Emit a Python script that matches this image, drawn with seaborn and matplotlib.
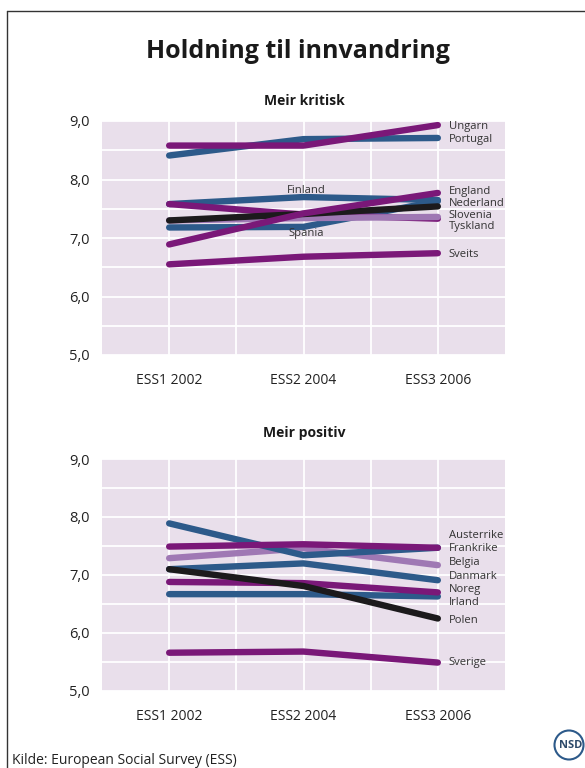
import numpy as np
import pandas as pd
import matplotlib
matplotlib.use("Agg")
import matplotlib.pyplot as plt
import seaborn as sns
from matplotlib.lines import Line2D
from matplotlib.patches import Circle

sns.set_style("white")
plt.rcParams['font.family'] = ['Open Sans', 'DejaVu Sans']

# Data
rounds = ["ESS1 2002", "ESS2 2004", "ESS3 2006"]

kritisk_land = ["Sveits", "Spania", "Finland", "Tyskland", "Slovenia",
                "Nederland", "England", "Portugal", "Ungarn"]
kritisk_verdi = [
    [6.55, 6.68, 6.74],   # Sveits
    [7.18, 7.19, 7.63],   # Spania
    [7.58, 7.70, 7.65],   # Finland
    [7.58, 7.40, 7.33],   # Tyskland
    [7.30, 7.34, 7.36],   # Slovenia
    [7.30, 7.41, 7.54],   # Nederland
    [6.89, 7.42, 7.77],   # England
    [8.41, 8.69, 8.71],   # Portugal
    [8.58, 8.58, 8.93],   # Ungarn
]

positiv_land = ["Sverige", "Irland", "Noreg", "Belgia", "Danmark",
                "Frankrike", "Austerrike", "Polen"]
positiv_verdi = [
    [5.66, 5.68, 5.49],   # Sverige
    [6.67, 6.67, 6.63],   # Irland
    [6.88, 6.86, 6.70],   # Noreg
    [7.29, 7.46, 7.17],   # Belgia
    [7.10, 7.20, 6.91],   # Danmark
    [7.89, 7.34, 7.47],   # Frankrike
    [7.49, 7.53, 7.47],   # Austerrike
    [7.10, 6.81, 6.25],   # Polen
]

PURPLE = "#7a1878"
BLUE = "#2d5a8a"
BLACK = "#1c1a1c"
LILAC = "#9f78b4"

farge = {
    "Ungarn": PURPLE, "Portugal": BLUE, "Finland": BLUE, "England": PURPLE,
    "Nederland": BLACK, "Slovenia": LILAC, "Tyskland": PURPLE, "Spania": BLUE,
    "Sveits": PURPLE,
    "Austerrike": PURPLE, "Frankrike": BLUE, "Belgia": LILAC, "Danmark": BLUE,
    "Noreg": PURPLE, "Irland": BLUE, "Polen": BLACK, "Sverige": PURPLE,
}

# label positions (value axis) for the end labels
kritisk_etikett = {"Ungarn": 8.91, "Portugal": 8.69, "England": 7.80,
                   "Nederland": 7.59, "Slovenia": 7.39, "Tyskland": 7.19,
                   "Sveits": 6.71}
kritisk_midt = {"Finland": 7.82, "Spania": 7.07}
positiv_etikett = {"Austerrike": 7.68, "Frankrike": 7.46, "Belgia": 7.21,
                   "Danmark": 6.98, "Noreg": 6.75, "Irland": 6.52,
                   "Polen": 6.21, "Sverige": 5.50}


def lang_tabell(land, verdi):
    rader = []
    for navn, vals in zip(land, verdi):
        for i, v in enumerate(vals):
            rader.append({"land": navn, "runde": i, "verdi": v})
    return pd.DataFrame(rader)


W, H = 585, 768
fig = plt.figure(figsize=(W / 100, H / 100), dpi=100)


def px_axes(x0, y0, x1, y1):
    return fig.add_axes([x0 / W, 1 - y1 / H, (x1 - x0) / W, (y1 - y0) / H])


def tegn_panel(ax, land, verdi, etikett, midt=None):
    ax.set_facecolor("#e9dfeb")
    df = lang_tabell(land, verdi)
    for navn in land:
        sub = df[df["land"] == navn]
        sns.lineplot(data=sub, x="runde", y="verdi", ax=ax, color=farge[navn],
                     linewidth=4.6, solid_capstyle="round", legend=False,
                     zorder=3)
    ax.set_xlim(-0.5, 2.5)
    ax.set_ylim(5, 9)
    ax.set_xticks([0, 1, 2])
    ax.set_xticklabels(rounds, fontsize=10, color="#222222")
    ax.set_xticks([0.5, 1.5], minor=True)
    ax.set_yticks([5, 6, 7, 8, 9])
    ax.set_yticklabels(["5,0", "6,0", "7,0", "8,0", "9,0"], fontsize=10.5,
                       color="#222222")
    ax.set_yticks([5.5, 6.5, 7.5, 8.5], minor=True)
    ax.grid(True, which="both", color="white", linewidth=1.3)
    ax.set_axisbelow(True)
    ax.tick_params(which="both", length=0)
    ax.tick_params(axis="x", pad=13)
    ax.tick_params(axis="y", pad=9)
    ax.set_xlabel("")
    ax.set_ylabel("")
    for s in ax.spines.values():
        s.set_visible(False)
    for navn, yv in etikett.items():
        ax.annotate(navn, (2, yv), xytext=(8, 0), textcoords="offset points",
                    fontsize=8.1, color="#333333", va="center", ha="left",
                    zorder=5, annotation_clip=False)
    if midt:
        for navn, yv in midt.items():
            ax.text(1.02, yv, navn, fontsize=8.1, color="#333333",
                    va="center", ha="center", zorder=5)


ax1 = px_axes(102, 121, 505, 355)
tegn_panel(ax1, kritisk_land, kritisk_verdi, kritisk_etikett, kritisk_midt)
ax2 = px_axes(102, 459, 505, 691)
tegn_panel(ax2, positiv_land, positiv_verdi, positiv_etikett)

fig.text(298 / W, 1 - 52 / H, "Holdning til innvandring", fontsize=18,
         fontweight="bold", ha="center", va="center", color="#1a1a1a")
fig.text(304 / W, 1 - 101 / H, "Meir kritisk", fontsize=10,
         fontweight="bold", ha="center", va="center", color="#1a1a1a")
fig.text(304 / W, 1 - 433 / H, "Meir positiv", fontsize=10,
         fontweight="bold", ha="center", va="center", color="#1a1a1a")
fig.text(12 / W, 1 - 760 / H, "Kilde: European Social Survey (ESS)",
         fontsize=10, ha="left", va="center", color="#222222")

# border
fig.add_artist(Line2D([7 / W, 1], [1 - 11 / H, 1 - 11 / H], color="#333333",
                      linewidth=1.0))
fig.add_artist(Line2D([7 / W, 7 / W], [0, 1 - 11 / H], color="#333333",
                      linewidth=1.0))

# NSD logo
logo = fig.add_axes([0, 0, 1, 1], facecolor="none")
logo.set_xlim(0, W)
logo.set_ylim(H, 0)
logo.axis("off")
logo.add_patch(Circle((569, 745), 14.5, fill=False, edgecolor="#2d5a8a",
                      linewidth=1.5))
logo.text(571, 746, "NSD", fontsize=8, fontweight="bold", color="#2d4a6a",
          ha="center", va="center")

fig.savefig("out.png", dpi=100)
